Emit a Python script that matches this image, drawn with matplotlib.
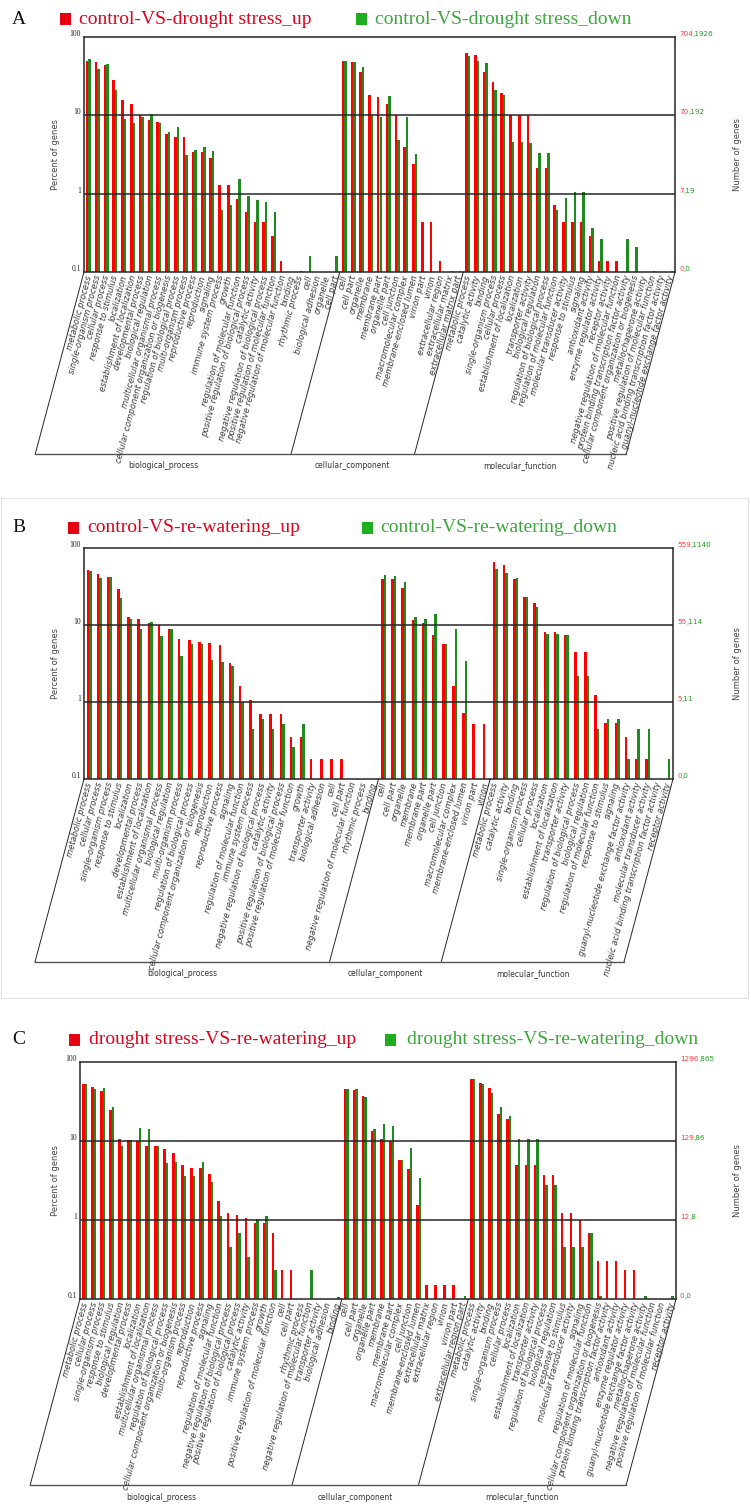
import numpy as np
import matplotlib
matplotlib.use("Agg")
import matplotlib.pyplot as plt
from matplotlib.patches import Rectangle

# ---------------- data (percent of genes) ----------------
# panel A : control-VS-drought stress
A_bp_labels = ["metabolic process", "single-organism process", "cellular process", "response to stimulus",
               "localization", "establishment of localization", "developmental process", "biological regulation",
               "multicellular organismal process", "cellular component organization or biogenesis",
               "regulation of biological process", "multi-organism process", "reproductive process", "reproduction",
               "signaling", "immune system process", "growth", "regulation of molecular function",
               "positive regulation of biological process", "catalytic activity",
               "negative regulation of biological process", "positive regulation of molecular function",
               "negative regulation of molecular function", "binding", "rhythmic process", "cell",
               "biological adhesion", "organelle", "cell part"]
A_bp_up = [50, 48, 44, 28, 15.5, 13.8, 10, 8.7, 8.3, 5.7, 5.3, 5.3, 3.4, 3.4, 2.86, 1.28, 1.28, 0.85, 0.58,
           0.43, 0.43, 0.29, 0.14, 0, 0, 0, 0, 0, 0]
A_bp_down = [52, 39, 45, 21, 9.1, 7.9, 9.5, 10.4, 7.9, 6.1, 7.1, 3.15, 3.65, 4.0, 3.5, 0.62, 0.72, 1.56, 0.94,
             0.84, 0.78, 0.58, 0, 0, 0.102, 0.158, 0, 0, 0.158]
A_cc_labels = ["cell", "cell part", "organelle", "membrane", "membrane part", "organelle part", "cell junction",
               "macromolecular complex", "membrane-enclosed lumen", "virion part", "virion", "extracellular region",
               "extracellular matrix", "extracellular matrix part"]
A_cc_up = [49, 48, 36, 18, 17, 14, 10, 4.0, 2.4, 0.43, 0.43, 0.14, 0, 0]
A_cc_down = [49, 48, 41, 10, 9.4, 17.4, 4.8, 9.4, 3.2, 0, 0, 0, 0.103, 0.103]
A_mf_labels = ["metabolic process", "catalytic activity", "binding", "single-organism process", "cellular process",
               "establishment of localization", "localization", "transporter activity", "biological regulation",
               "regulation of biological process", "regulation of molecular function",
               "molecular transducer activity", "response to stimulus", "signaling", "antioxidant activity",
               "enzyme regulator activity", "receptor activity", "negative regulation of molecular function",
               "protein binding transcription factor activity", "cellular component organization or biogenesis",
               "metallochaperone activity", "positive regulation of molecular function",
               "nucleic acid binding transcription factor activity", "guanyl-nucleotide exchange factor activity"]
A_mf_up = [63, 58.5, 36, 27, 19, 10, 10, 10, 2.1, 2.1, 0.72, 0.43, 0.43, 0.43, 0.29, 0.14, 0.14, 0.14,
           0, 0, 0, 0, 0, 0]
A_mf_down = [57, 50, 47, 21, 18, 4.6, 4.6, 4.4, 3.3, 3.3, 0.62, 0.88, 1.04, 1.04, 0.36, 0.26, 0, 0,
             0.26, 0.21, 0, 0.102, 0, 0.102]
A_counts = [("704", "1926"), ("70", "192"), ("7", "19"), ("0", "0")]

# panel B : control-VS-re-watering
B_bp_labels = ["metabolic process", "cellular process", "single-organism process", "response to stimulus",
               "localization", "developmental process", "establishment of localization",
               "multicellular organismal process", "biological regulation", "multi-organism process",
               "regulation of biological process", "cellular component organization or biogenesis", "reproduction",
               "reproductive process", "signaling", "regulation of molecular function", "immune system process",
               "negative regulation of biological process", "catalytic activity",
               "positive regulation of biological process", "positive regulation of molecular function", "growth",
               "transporter activity", "biological adhesion", "cell", "cell part",
               "negative regulation of molecular function", "rhythmic process", "binding"]
B_bp_up = [52.5, 45.6, 42, 29, 12.8, 11.8, 10.7, 10, 8.8, 6.6, 6.3, 6.1, 5.8, 5.5, 3.2, 1.6, 1.07, 0.70, 0.70,
           0.70, 0.35, 0.35, 0.18, 0.18, 0.18, 0.18, 0, 0, 0]
B_bp_down = [50, 41, 42, 22.5, 11.8, 8.8, 10.8, 7.2, 9.0, 3.9, 5.7, 5.6, 3.46, 3.3, 2.9, 1.0, 0.44, 0.61, 0.44,
             0.52, 0.26, 0.52, 0, 0, 0, 0, 0, 0, 0]
B_cc_labels = ["cell", "cell part", "organelle", "membrane", "membrane part", "organelle part", "cell junction",
               "macromolecular complex", "membrane-enclosed lumen", "virion part", "virion"]
B_cc_up = [39, 39, 30, 11.6, 10.7, 7.4, 5.7, 1.6, 0.71, 0.52, 0.52]
B_cc_down = [44, 43, 36, 12.6, 11.8, 13.9, 5.7, 8.9, 3.4, 0, 0]
B_mf_labels = ["metabolic process", "catalytic activity", "binding", "single-organism process", "cellular process",
               "localization", "establishment of localization", "transporter activity",
               "regulation of biological process", "biological regulation", "regulation of molecular function",
               "response to stimulus", "signaling", "guanyl-nucleotide exchange factor activity",
               "antioxidant activity", "molecular transducer activity",
               "nucleic acid binding transcription factor activity", "receptor activity"]
B_mf_up = [66, 60, 39, 22.8, 19.5, 8.0, 8.0, 7.4, 4.4, 4.4, 1.24, 0.53, 0.53, 0.35, 0.18, 0.18, 0, 0]
B_mf_down = [54, 47.5, 41, 22.8, 17.3, 7.6, 7.6, 7.4, 2.15, 2.15, 0.44, 0.61, 0.61, 0.18, 0.44, 0.44, 0, 0.18]
B_counts = [("559", "1140"), ("55", "114"), ("5", "11"), ("0", "0")]

# panel C : drought stress-VS-re-watering
C_bp_labels = ["metabolic process", "cellular process", "single-organism process", "response to stimulus",
               "biological regulation", "developmental process", "localization", "establishment of localization",
               "multicellular organismal process", "regulation of biological process",
               "cellular component organization or biogenesis", "multi-organism process", "reproduction",
               "reproductive process", "signaling", "regulation of molecular function",
               "negative regulation of biological process", "positive regulation of biological process",
               "catalytic activity", "immune system process", "growth", "positive regulation of molecular function",
               "cell", "cell part", "rhythmic process", "negative regulation of molecular function",
               "transporter activity", "biological adhesion", "binding"]
C_bp_up = [53, 48, 42.6, 24.5, 10.7, 10.4, 10, 8.7, 8.6, 8.0, 7.1, 4.95, 4.6, 4.5, 3.8, 1.75, 1.24, 1.16, 1.07,
           0.91, 0.91, 0.69, 0.23, 0.23, 0, 0, 0, 0, 0]
C_bp_down = [53, 46, 47, 27, 8.7, 10.2, 14.7, 14, 8.6, 5.3, 5.5, 3.6, 3.6, 5.5, 3.0, 1.13, 0.45, 0.69, 0.34,
             1.03, 1.13, 0.23, 0, 0, 0, 0.23, 0, 0, 0.105]
C_cc_labels = ["cell", "cell part", "organelle", "organelle part", "membrane", "membrane part",
               "macromolecular complex", "cell junction", "membrane-enclosed lumen", "extracellular matrix",
               "extracellular region", "virion", "virion part", "extracellular region part"]
C_cc_up = [45, 44, 37, 13.4, 10.5, 10, 5.8, 4.4, 1.55, 0.15, 0.15, 0.15, 0.15, 0]
C_cc_down = [46, 45, 36, 14, 16.6, 15.6, 5.8, 8.2, 3.4, 0, 0, 0, 0, 0.11]
C_mf_labels = ["metabolic process", "catalytic activity", "binding", "single-organism process", "cellular process",
               "localization", "establishment of localization", "transporter activity",
               "regulation of biological process", "biological regulation", "response to stimulus",
               "molecular transducer activity", "signaling", "regulation of molecular function",
               "cellular component organization or biogenesis", "protein binding transcription factor activity",
               "antioxidant activity", "enzyme regulator activity", "guanyl-nucleotide exchange factor activity",
               "metallochaperone activity", "negative regulation of molecular function",
               "positive regulation of molecular function", "receptor activity"]
C_mf_up = [60.5, 54, 47, 22, 19, 4.95, 4.95, 4.95, 3.7, 3.7, 1.21, 1.21, 0.99, 0.69, 0.30, 0.30, 0.30, 0.23, 0.23,
           0, 0, 0, 0]
C_mf_down = [60.5, 53, 40, 27, 20.5, 10.7, 10.7, 10.7, 2.8, 2.8, 0.45, 0.45, 0.45, 0.69, 0.11, 0, 0, 0, 0, 0.11,
             0, 0, 0.11]
C_counts = [("1296", "865"), ("129", "86"), ("12", "8"), ("0", "0")]

group_names = ["biological_process", "cellular_component", "molecular_function"]
pct_ticks = [100, 10, 1, 0.1]
pct_tick_labels = ["100", "10", "1", "0.1"]

# ---------------- style / layout (pixels of a 751x1512 canvas) ----------------
W, H = 751, 1512
RED = "#ff0000"
GREEN = "#1f8a1f"
LINE = "#262626"
SLANT = 75
SERIF = "Liberation Serif"

panels = [
    dict(letter="A", up="control-VS-drought stress_up", down="control-VS-drought stress_down",
         groups=[(A_bp_labels, A_bp_up, A_bp_down), (A_cc_labels, A_cc_up, A_cc_down),
                 (A_mf_labels, A_mf_up, A_mf_down)],
         counts=A_counts, box=(84, 675, 37, 272, 454), leg_y=19, leg_x=(60, 79, 356, 375)),
    dict(letter="B", up="control-VS-re-watering_up", down="control-VS-re-watering_down",
         groups=[(B_bp_labels, B_bp_up, B_bp_down), (B_cc_labels, B_cc_up, B_cc_down),
                 (B_mf_labels, B_mf_up, B_mf_down)],
         counts=B_counts, box=(84, 673, 548, 779, 962), leg_y=528, leg_x=(68, 87, 362, 380)),
    dict(letter="C", up="drought stress-VS-re-watering_up", down="drought stress-VS-re-watering_down",
         groups=[(C_bp_labels, C_bp_up, C_bp_down), (C_cc_labels, C_cc_up, C_cc_down),
                 (C_mf_labels, C_mf_up, C_mf_down)],
         counts=C_counts, box=(80, 676, 1062, 1299, 1485), leg_y=1040, leg_x=(69, 89, 385, 407)),
]


def ypix(v, top, bottom):
    return bottom - (np.log10(v) + 1) / 3 * (bottom - top)


def draw_panel(fig, over, p):
    left, right, top, bottom, ybox = p["box"]
    labels = sum([g[0] for g in p["groups"]], [])
    up = np.concatenate([g[1] for g in p["groups"]]).astype(float)
    down = np.concatenate([g[2] for g in p["groups"]]).astype(float)
    n = len(labels)
    slot = (right - left) / n

    ax = fig.add_axes([left / W, 1 - bottom / H, (right - left) / W, (bottom - top) / H])
    ax.set_yscale("log")
    ax.set_ylim(0.1, 100)
    ax.set_xlim(0, n)
    x = np.arange(n) + 0.5
    w = 2.5 / slot
    ax.bar(x - w / 2, np.clip(up - 0.1, 0, None), width=w, bottom=0.1, color=RED, linewidth=0)
    ax.bar(x + w / 2, np.clip(down - 0.1, 0, None), width=w, bottom=0.1, color=GREEN, linewidth=0)
    for v in (1, 10):
        ax.axhline(v, color=LINE, lw=1.1)
    for s in ax.spines.values():
        s.set_color(LINE)
        s.set_linewidth(1.1)
    ax.tick_params(which="both", left=False, labelleft=False, bottom=False, labelbottom=False)
    ax.patch.set_alpha(0)

    # slanted term labels
    for xi, lab in zip(x, labels):
        ax.annotate(lab, xy=(xi, 0), xycoords=ax.get_xaxis_transform(), xytext=(0.5, -2.5),
                    textcoords="offset points", rotation=SLANT, rotation_mode="anchor",
                    ha="right", va="center", fontsize=6.0, style="italic", color="#3a3a3a")

    # slanted separators and the bottom bar with the category names
    dx = (ybox - bottom) / np.tan(np.radians(SLANT))
    seps = np.cumsum([0] + [len(g[0]) for g in p["groups"]])
    for k in seps:
        xs = left + k * slot
        over.plot([xs, xs - dx], [bottom, ybox], color=LINE, lw=0.7)
    over.plot([left - dx, right - dx], [ybox, ybox], color="#555555", lw=1.0)
    for name, k0, k1 in zip(group_names, seps[:-1], seps[1:]):
        xc = left + (k0 + k1) / 2 * slot - dx
        over.text(xc, ybox + 12, name, ha="center", va="center", fontsize=5.5, color="#333333")

    # left percent ticks and right gene-count ticks
    for v, tl, (a, b) in zip(pct_ticks, pct_tick_labels, p["counts"]):
        yy = ypix(v, top, bottom) - 3
        over.text(left - 3, yy, tl, ha="right", va="center", fontsize=5.5, family=SERIF, color="#222222")
        t = over.text(right + 4, yy, a, ha="left", va="center", fontsize=5.2, color="#ff3b3b")
        over.annotate("," + b, xy=(1, 0.5), xycoords=t, ha="left", va="center", fontsize=5.2, color="#23a023")

    mid = (top + bottom) / 2
    over.text(56, mid, "Percent of genes", rotation=90, ha="center", va="center", fontsize=6.0, color="#444444")
    over.text(737, mid, "Number of genes", rotation=90, ha="center", va="center", fontsize=6.0, color="#444444")

    # letter and legend
    ly = p["leg_y"]
    sq1, t1, sq2, t2 = p["leg_x"]
    over.text(12, ly, p["letter"], ha="left", va="center", fontsize=14, family=SERIF, color="#111111")
    over.add_patch(Rectangle((sq1, ly - 6), 11, 12, color="#e60012", lw=0))
    over.text(t1, ly, p["up"], ha="left", va="center", fontsize=14, family=SERIF, color="#e2001a")
    over.add_patch(Rectangle((sq2, ly - 6), 11, 12, color="#1fae1f", lw=0))
    over.text(t2, ly, p["down"], ha="left", va="center", fontsize=14, family=SERIF, color="#3aa83a")


fig = plt.figure(figsize=(W / 100, H / 100), dpi=100)
over = fig.add_axes([0, 0, 1, 1])
over.set_xlim(0, W)
over.set_ylim(H, 0)
over.axis("off")

# faint frame round panel B
over.add_patch(Rectangle((1, 498), 747, 500, fill=False, ec="#e2e2e2", lw=0.8))

for p in panels:
    draw_panel(fig, over, p)

fig.savefig("out.png", dpi=100)
